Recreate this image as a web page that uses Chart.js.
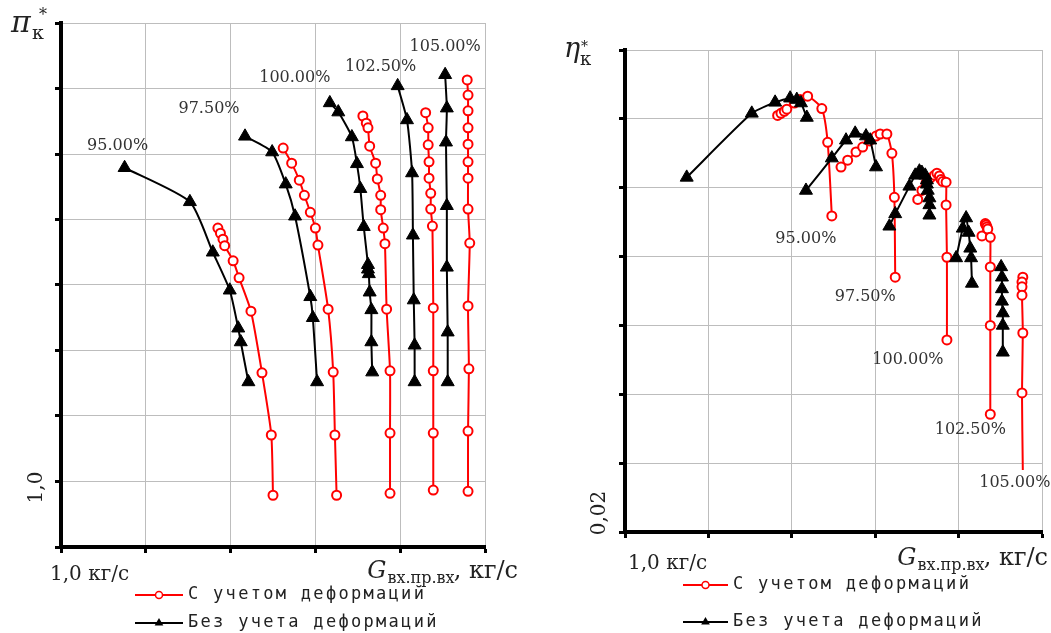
<!DOCTYPE html>
<html>
<head>
<meta charset="utf-8">
<script src="https://cdn.jsdelivr.net/npm/chart.js@4.4.1/dist/chart.umd.min.js"></script>
<style>
  html, body { margin: 0; padding: 0; background: #fff; }
  #wrap { position: relative; width: 1051px; height: 633px; }
  canvas { position: absolute; top: 0; }
  #piChart { left: 0; }
  #etaChart { left: 520px; }
</style>
</head>
<body>
<div id="wrap">
  <canvas id="piChart" width="520" height="633"></canvas>
  <canvas id="etaChart" width="531" height="633"></canvas>
</div>
<script>
document.addEventListener('DOMContentLoaded', function() {

  /* Data: speed lines 95 ... 105 % */

  const speeds = ['95.00%', '97.50%', '100.00%', '102.50%', '105.00%'];

  // pi*_k, С учетом деформаций
  const piDefG = [
    [1.185, 1.188, 1.191, 1.193, 1.203, 1.210, 1.224, 1.237, 1.248, 1.250],
    [1.262, 1.272, 1.281, 1.287, 1.294, 1.300, 1.303, 1.315, 1.321, 1.323, 1.325],
    [1.356, 1.360, 1.362, 1.364, 1.371, 1.373, 1.377, 1.377, 1.380, 1.382, 1.384, 1.388, 1.388, 1.388],
    [1.430, 1.433, 1.433, 1.434, 1.434, 1.436, 1.436, 1.438, 1.439, 1.439, 1.439, 1.439],
    [1.479, 1.480, 1.480, 1.480, 1.480, 1.480, 1.480, 1.480, 1.482, 1.480, 1.481, 1.480, 1.480]
  ];
  const piDef = [
    [1.387, 1.379, 1.370, 1.360, 1.337, 1.311, 1.260, 1.166, 1.071, 0.979],
    [1.509, 1.486, 1.460, 1.437, 1.411, 1.387, 1.361, 1.263, 1.167, 1.071, 0.979],
    [1.558, 1.547, 1.540, 1.512, 1.486, 1.462, 1.437, 1.415, 1.387, 1.363, 1.263, 1.169, 1.074, 0.982],
    [1.563, 1.540, 1.514, 1.488, 1.463, 1.440, 1.416, 1.390, 1.265, 1.169, 1.074, 0.987],
    [1.613, 1.590, 1.566, 1.540, 1.515, 1.488, 1.463, 1.416, 1.364, 1.268, 1.172, 1.077, 0.985]
  ];

  // pi*_k, Без учета деформаций
  const piRigG = [
    [1.075, 1.152, 1.179, 1.199, 1.209, 1.212, 1.221],
    [1.217, 1.249, 1.265, 1.276, 1.294, 1.297, 1.302],
    [1.317, 1.327, 1.343, 1.349, 1.353, 1.357, 1.362, 1.362, 1.363, 1.364, 1.366, 1.366, 1.367],
    [1.397, 1.408, 1.414, 1.415, 1.416, 1.417, 1.417],
    [1.453, 1.455, 1.454, 1.455, 1.455, 1.456, 1.456]
  ];
  const piRig = [
    [1.479, 1.427, 1.350, 1.292, 1.234, 1.213, 1.152],
    [1.527, 1.503, 1.454, 1.405, 1.282, 1.250, 1.152],
    [1.578, 1.564, 1.526, 1.485, 1.447, 1.389, 1.331, 1.324, 1.317, 1.289, 1.262, 1.213, 1.167],
    [1.604, 1.552, 1.471, 1.376, 1.277, 1.208, 1.152],
    [1.621, 1.570, 1.518, 1.421, 1.327, 1.228, 1.152]
  ];

  // eta*_k, С учетом деформаций
  const etaDefG = [
    [1.183, 1.187, 1.191, 1.194, 1.203, 1.210, 1.219, 1.236, 1.243, 1.248],
    [1.259, 1.267, 1.277, 1.285, 1.293, 1.301, 1.306, 1.314, 1.320, 1.323, 1.324],
    [1.351, 1.356, 1.361, 1.366, 1.371, 1.374, 1.377, 1.379, 1.381, 1.385, 1.385, 1.386, 1.386],
    [1.428, 1.432, 1.433, 1.434, 1.435, 1.438, 1.438, 1.438, 1.438],
    [1.477, 1.476, 1.476, 1.476, 1.477, 1.476, 1.477]
  ];
  const etaDef = [
    [0.0805, 0.0808, 0.0811, 0.0814, 0.0823, 0.0828, 0.0833, 0.0815, 0.0766, 0.0659],
    [0.0730, 0.0740, 0.0752, 0.0759, 0.0768, 0.0775, 0.0778, 0.0778, 0.0750, 0.0686, 0.0570],
    [0.0683, 0.0696, 0.0707, 0.0714, 0.0718, 0.0721, 0.0717, 0.0712, 0.0709, 0.0708, 0.0675, 0.0599, 0.0479],
    [0.0630, 0.0648, 0.0646, 0.0643, 0.0640, 0.0628, 0.0585, 0.0500, 0.0371],
    [0.0570, 0.0563, 0.0556, 0.0544, 0.0489, 0.0402, 0.0290]
  ];

  // eta*_k, Без учета деформаций
  const etaRigG = [
    [1.074, 1.152, 1.180, 1.198, 1.206, 1.211, 1.218],
    [1.217, 1.248, 1.265, 1.276, 1.289, 1.294, 1.301],
    [1.317, 1.324, 1.341, 1.348, 1.353, 1.356, 1.360, 1.362, 1.362, 1.363, 1.365, 1.365, 1.365],
    [1.397, 1.405, 1.409, 1.412, 1.414, 1.415, 1.416],
    [1.451, 1.452, 1.452, 1.452, 1.453, 1.453, 1.453]
  ];
  const etaRig = [
    [0.0715, 0.0808, 0.0824, 0.0830, 0.0828, 0.0823, 0.0802],
    [0.0696, 0.0743, 0.0769, 0.0779, 0.0775, 0.0769, 0.0730],
    [0.0644, 0.0662, 0.0702, 0.0718, 0.0724, 0.0722, 0.0718, 0.0711, 0.0705, 0.0696, 0.0685, 0.0675, 0.0660],
    [0.0598, 0.0641, 0.0656, 0.0635, 0.0612, 0.0598, 0.0561],
    [0.0585, 0.0570, 0.0553, 0.0535, 0.0518, 0.0500, 0.0461]
  ];

  const legendDef = 'С учетом деформаций';
  const legendRig = 'Без учета деформаций';

  /* Styles */

  const RED = '#ff0000';
  const serif = '"DejaVu Serif"';
  const mono = '"DejaVu Sans Mono"';

  function circle(ctx, x, y, r, lw) {
    ctx.beginPath();
    ctx.arc(x, y, r, 0, Math.PI * 2);
    ctx.fillStyle = '#fff';
    ctx.fill();
    ctx.lineWidth = lw;
    ctx.strokeStyle = RED;
    ctx.stroke();
  }

  function triangle(ctx, x, y, r) {
    ctx.beginPath();
    ctx.moveTo(x, y - r);
    ctx.lineTo(x + r * 0.866, y + r / 2);
    ctx.lineTo(x - r * 0.866, y + r / 2);
    ctx.closePath();
    ctx.fillStyle = '#000';
    ctx.fill();
  }

  // text made of pieces with own font and baseline shift
  function pieces(ctx, list, x, y, alignRight) {
    let w = 0;
    list.forEach(p => { ctx.font = p.f; w += ctx.measureText(p.t).width; });
    let cx = alignRight ? x - w : x;
    list.forEach(p => {
      ctx.font = p.f;
      ctx.fillText(p.t, cx + (p.dx || 0), y + (p.dy || 0));
      cx += ctx.measureText(p.t).width;
    });
  }

  const decor = {
    id: 'decor',
    afterDraw(chart, args, o) {
      const ctx = chart.ctx;
      const a = chart.chartArea;
      ctx.save();

      // speed labels
      ctx.font = '16px ' + serif;
      ctx.fillStyle = '#333';
      ctx.textAlign = 'center';
      ctx.textBaseline = 'middle';
      speeds.forEach((s, i) => {
        const set = o.labelOnDef ? 5 + i : i;
        const pts = chart.getDatasetMeta(set).data;
        const p = o.labelOnDef ? pts[pts.length - 1] : pts[0];
        const off = o.labelOffsets[i];
        ctx.fillText(s, p.x + off[0], p.y + off[1]);
      });

      ctx.fillStyle = '#222';
      ctx.textAlign = 'left';
      ctx.textBaseline = 'alphabetic';

      // axis symbol
      const sy = o.symbol;
      ctx.font = 'italic ' + sy.size + 'px ' + serif;
      ctx.fillText(sy.main, sy.x, sy.y);
      ctx.font = sy.starSize + 'px ' + serif;
      ctx.fillText('*', sy.starX, sy.starY);
      ctx.font = sy.subSize + 'px ' + serif;
      ctx.fillText('к', sy.subX, sy.subY);

      // y tick label, rotated
      const yt = o.yTick;
      const py = chart.scales.y.getPixelForValue(yt.value) + yt.dy;
      ctx.save();
      ctx.translate(yt.x, py);
      ctx.rotate(-Math.PI / 2);
      ctx.font = '20px ' + serif;
      ctx.textAlign = 'center';
      ctx.textBaseline = 'middle';
      ctx.fillText(yt.text, 0, 0);
      ctx.restore();

      // x start label
      ctx.font = '20px ' + serif;
      ctx.fillText('1,0 кг/с', a.left + o.xStart.dx, o.xStart.y);

      // x title
      pieces(ctx, [
        { t: 'G', f: 'italic 24px ' + serif },
        { t: 'вх.пр.вх', f: '16px ' + serif, dy: 5, dx: 1 },
        { t: ', кг/с', f: '24px ' + serif }
      ], o.title.x, o.title.y, true);

      // legend
      const lg = o.legend;
      [[legendDef, 'def', lg.y1], [legendRig, 'rig', lg.y2]].forEach(row => {
        const [text, kind, y] = row;
        ctx.beginPath();
        ctx.moveTo(lg.x1, y);
        ctx.lineTo(lg.x2, y);
        ctx.lineWidth = 2;
        ctx.strokeStyle = kind === 'def' ? RED : '#000';
        ctx.stroke();
        const mx = (lg.x1 + lg.x2) / 2;
        if (kind === 'def') circle(ctx, mx, y, 3.5, 1.5);
        else triangle(ctx, mx, y, 5);
        ctx.fillStyle = '#222';
        ctx.font = '17px ' + mono;
        ctx.letterSpacing = '2.3px';
        ctx.textBaseline = 'middle';
        ctx.fillText(text, lg.x2 + 5, y);
        ctx.letterSpacing = '0px';
        ctx.textBaseline = 'alphabetic';
      });

      ctx.restore();
    }
  };

  function makeChart(id, gDef, vDef, gRig, vRig, cfg) {
    const datasets = [];
    speeds.forEach((s, i) => {
      datasets.push({
        label: legendRig + ' ' + s,
        data: gRig[i].map((g, k) => ({ x: g, y: vRig[i][k] })),
        showLine: true,
        borderColor: '#000',
        borderWidth: 2,
        tension: 0.2,
        pointStyle: 'triangle',
        pointRadius: 7.5,
        pointBackgroundColor: '#000',
        pointBorderColor: '#000',
        pointBorderWidth: 1
      });
    });
    speeds.forEach((s, i) => {
      const n = gDef[i].length;
      datasets.push({
        label: legendDef + ' ' + s,
        data: gDef[i].map((g, k) => ({ x: g, y: vDef[i][k] })),
        showLine: true,
        borderColor: RED,
        borderWidth: 2,
        tension: 0.2,
        pointStyle: 'circle',
        pointRadius: gDef[i].map((g, k) => (cfg.noLastMarker && i === 4 && k === n - 1) ? 0 : 4.5),
        pointBackgroundColor: '#fff',
        pointBorderColor: RED,
        pointBorderWidth: 2
      });
    });

    return new Chart(document.getElementById(id), {
      type: 'scatter',
      data: { datasets },
      options: {
        responsive: false,
        animation: false,
        devicePixelRatio: 1,
        layout: { padding: cfg.padding },
        plugins: {
          legend: { display: false },
          tooltip: { enabled: false },
          decor: cfg.decor
        },
        scales: {
          x: {
            type: 'linear',
            min: 1.0,
            max: 1.5,
            ticks: { stepSize: 0.1, display: false },
            grid: { color: '#bdbdbd', lineWidth: 1, tickColor: '#000', tickWidth: 3, tickLength: 6 },
            border: { color: '#000', width: 4 },
            afterFit: s => { s.height = 20; }
          },
          y: {
            type: 'linear',
            min: cfg.yMin,
            max: cfg.yMax,
            ticks: { stepSize: cfg.yStep, display: false },
            grid: { color: '#bdbdbd', lineWidth: 1, tickColor: '#000', tickWidth: 3, tickLength: 6 },
            border: { color: '#000', width: 4 },
            afterFit: s => { s.width = cfg.yWidth; }
          }
        }
      },
      plugins: [decor]
    });
  }

  /* pi*_k chart */

  makeChart('piChart', piDefG, piDef, piRigG, piRig, {
    yMin: 0.9, yMax: 1.7, yStep: 0.1, yWidth: 61,
    padding: { left: 0, right: 35, top: 23, bottom: 66 },
    decor: {
      labelOnDef: false,
      labelOffsets: [[-7, -22], [-36, -27], [-35, -25], [-17, -19], [0, -28]],
      symbol: { main: 'π', size: 30, x: 11, y: 32, starSize: 16, starX: 39, starY: 20, subSize: 19, subX: 32, subY: 39 },
      yTick: { value: 1.0, text: '1,0', x: 37, dy: 6 },
      xStart: { dx: -11, y: 580 },
      title: { x: 518, y: 578 },
      legend: { x1: 135, x2: 183, y1: 595, y2: 623 }
    }
  });

  /* eta*_k chart */

  makeChart('etaChart', etaDefG, etaDef, etaRigG, etaRig, {
    yMin: 0.02, yMax: 0.09, yStep: 0.01, yWidth: 105, noLastMarker: true,
    padding: { left: 0, right: 9, top: 50, bottom: 81 },
    decor: {
      labelOnDef: true,
      labelOffsets: [[-26, 23], [-30, 20], [-39, 20], [-20, 16], [-8, 13]],
      symbol: { main: 'η', size: 27, x: 44, y: 57, starSize: 14, starX: 61, starY: 51, subSize: 18, subX: 60, subY: 65 },
      yTick: { value: 0.02, text: '0,02', x: 80, dy: -19 },
      xStart: { dx: 3, y: 569 },
      title: { x: 528, y: 565 },
      legend: { x1: 163, x2: 208, y1: 585, y2: 622 }
    }
  });
});
</script>
</body>
</html>
